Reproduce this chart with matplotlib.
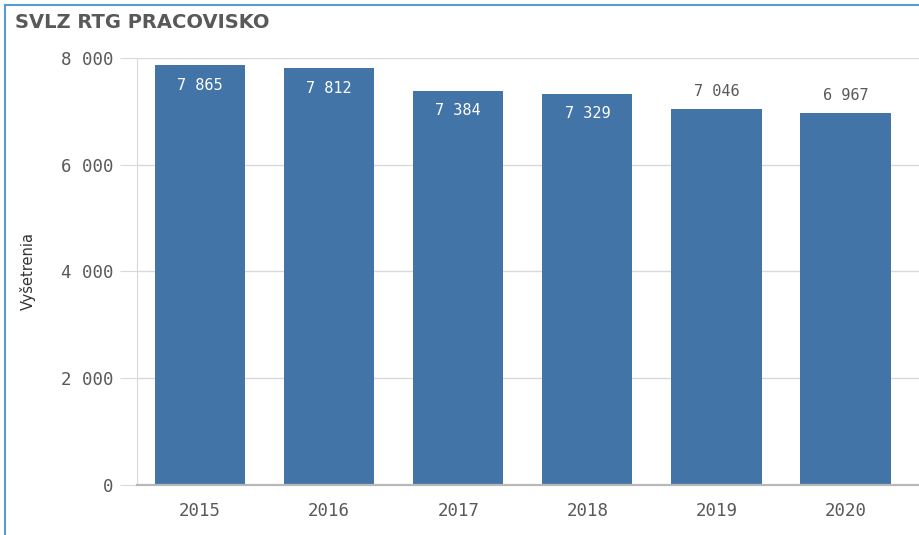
import matplotlib
matplotlib.use("Agg")
from matplotlib import pyplot as plt
from matplotlib.ticker import FuncFormatter

# data
years = ["2015", "2016", "2017", "2018", "2019", "2020"]
exams = [7865, 7812, 7384, 7329, 7046, 6967]
yticks = [0, 2000, 4000, 6000, 8000]

bar_color = "#4374a8"
text_gray = "#595959"
mono = "DejaVu Sans Mono"

def fmt(v, pos=None):
	# thousands separated with a thin space, e.g. 7 865
	return f"{int(v):,}".replace(",", "\u2009")

fig = plt.figure(figsize=(9.19, 5.35), dpi=100)
ax = fig.add_axes([0.149, 0.0935, 0.851, 0.7985])

x = list(range(len(years)))
bars = ax.bar(x, exams, width=0.7, color=bar_color, zorder=3)

ax.set_xlim(-0.49, 5.57)
ax.set_ylim(0, 8000)
ax.set_yticks(yticks)
ax.yaxis.set_major_formatter(FuncFormatter(fmt))
ax.set_xticks(x)
ax.set_xticklabels(years)

ax.grid(axis="y", color="#d9d9d9", linewidth=1, zorder=0)
for side in ["top", "right"]:
	ax.spines[side].set_visible(False)
ax.spines["left"].set_color("#d9d9d9")
ax.spines["bottom"].set_color("#b8b8b8")
ax.spines["bottom"].set_linewidth(1.6)
ax.spines["bottom"].set_zorder(4)

ax.tick_params(axis="y", length=12, color="#d9d9d9", pad=5,
			   labelsize=12.5, labelcolor=text_gray)
ax.tick_params(axis="x", length=0, pad=12, labelsize=12.5, labelcolor=text_gray)
for lab in ax.get_xticklabels() + ax.get_yticklabels():
	lab.set_fontfamily(mono)

ax.set_ylabel("Vyšetrenia", fontsize=10.5, color="#333333", labelpad=18)

# value labels: inside the bar when tall, otherwise above it
for rect, v in zip(bars, exams):
	cx = rect.get_x() + rect.get_width() / 2
	if v > 7200:
		ax.annotate(fmt(v), (cx, v), xytext=(0, -20), textcoords="offset points",
					ha="center", va="bottom", color="white", fontsize=11, family=mono)
	else:
		ax.annotate(fmt(v), (cx, v), xytext=(0, 7), textcoords="offset points",
					ha="center", va="bottom", color=text_gray, fontsize=11, family=mono)

fig.text(0.016, 0.958, "SVLZ RTG PRACOVISKO", fontsize=14, fontweight="bold",
		 color=text_gray, family=["Liberation Sans Narrow", "DejaVu Sans"], va="center")

# blue frame of the dashboard panel
fig.add_artist(plt.Line2D([0.005, 0.005], [0.0, 0.99], color="#5b9bd5", linewidth=1.5))
fig.add_artist(plt.Line2D([0.005, 1.0], [0.99, 0.99], color="#5b9bd5", linewidth=1.5))

fig.savefig("out.png", dpi=100)
